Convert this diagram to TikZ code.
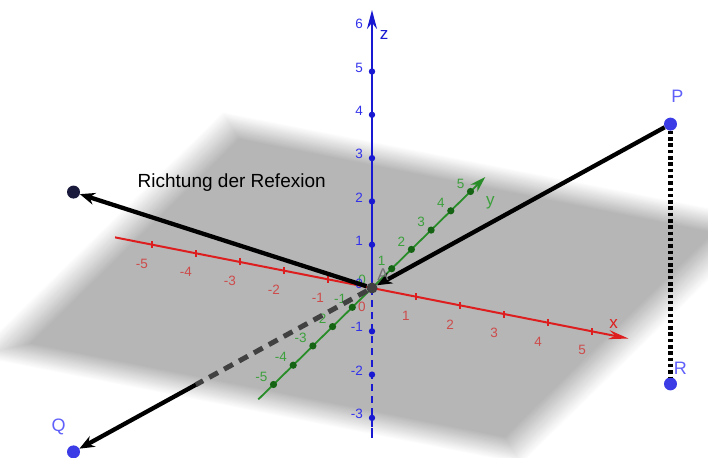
\documentclass[tikz,border=0pt]{standalone}
\usepackage{fontspec}
\setmainfont{Liberation Sans}
\usepackage{tikz}
\usetikzlibrary{calc,arrows.meta,positioning}

\definecolor{xred}{RGB}{222,30,30}
\definecolor{xlab}{RGB}{205,75,75}
\definecolor{ygreen}{RGB}{40,140,40}
\definecolor{ydot}{RGB}{20,100,20}
\definecolor{ylab}{RGB}{60,160,60}
\definecolor{zblue}{RGB}{25,25,210}
\definecolor{zlab}{RGB}{50,50,235}
\definecolor{ptblue}{RGB}{60,60,230}
\definecolor{ptlab}{RGB}{95,95,250}
\definecolor{dirdot}{RGB}{25,25,60}
\definecolor{hidden}{RGB}{65,65,65}

\tikzset{
  pt/.style={circle, fill=ptblue, inner sep=0pt, minimum size=13pt},
  ptlab/.style={text=ptlab, inner sep=0pt, font=\fontsize{18}{20}\selectfont},
  vec/.style={line width=4.3pt, -{Stealth[length=15pt,width=12pt]}},
  ticklab/.style={inner sep=0pt, font=\fontsize{13.5}{15}\selectfont},
  axlab/.style={inner sep=0pt, font=\fontsize{17}{19}\selectfont},
}

\begin{document}
\begin{tikzpicture}[>=Stealth, x={(44pt,-8.67pt)}, y={(19.7pt,19.3pt)}, z={(0pt,43.3pt)}]
  \useasboundingbox (-372pt,-169pt) rectangle (336pt,288pt);
  \clip (-372pt,-169pt) rectangle (336pt,288pt);

  % xy plane with soft edge
  \foreach \k in {0,...,19} {
    \pgfmathsetmacro{\pw}{6.25-0.045*\k}
    \pgfmathsetmacro{\ph}{6.35-0.055*\k}
    \pgfmathsetmacro{\sh}{1.5*\k}
    \fill[black!\sh] (-\pw,-\ph,0) -- (\pw,-\ph,0) -- (\pw,\ph,0) -- (-\pw,\ph,0) -- cycle;
  }

  % x axis
  \draw[xred, line width=2pt, -{Stealth[length=20pt,width=9pt]}] (-5.84,0,0) -- (5.83,0,0);
  \foreach \i in {-5,-4,-3,-2,-1,1,2,3,4,5} {
    \draw[xred, line width=2.8pt] ([yshift=-3.5pt]\i,0,0) -- ([yshift=3.5pt]\i,0,0);
  }
  \foreach \i in {-5,...,5} {
    \node[ticklab, text=xlab] at ([shift={(-10pt,-19pt)}]\i,0,0) {\i};
  }

  % y axis
  \draw[ygreen, line width=1.8pt, -{Stealth[length=16pt,width=10pt]}] (0,-5.77,0) -- (0,5.75,0);
  \foreach \i in {-5,-4,-3,-2,-1,1,2,3,4,5} {
    \fill[ydot] (0,\i,0) circle (3.6pt);
  }
  \foreach \i in {-5,...,5} {
    \node[ticklab, text=ylab, anchor=east] at ([shift={(-6pt,8pt)}]0,\i,0) {\i};
  }

  % z axis, dashed under the plane
  \draw[zblue, line width=2pt, dash pattern=on 7pt off 5pt] (0,0,0) -- (0,0,-3.23);
  \draw[zblue, line width=2pt] (0,0,-3.23) -- (0,0,-3.46);
  \draw[zblue, line width=2pt, -{Stealth[length=19pt,width=10pt]}] (0,0,0) -- (0,0,6.42);
  \foreach \i in {-3,-2,-1,1,2,3,4,5} {
    \fill[zblue] (0,0,\i) circle (3.2pt);
  }
  \foreach \i in {-3,...,6} {
    \node[ticklab, text=zlab, anchor=east] at ([shift={(-9pt,4pt)}]0,0,\i) {\i};
  }

  % axis names
  \node[axlab, text=xred] (xname) at ([shift={(-15pt,15pt)}]5.83,0,0) {x};
  \node[axlab, text=ylab] (yname) at ([shift={(5pt,-26pt)}]0,5.75,0) {y};
  \node[axlab, text=zblue] (zname) at ([shift={(12pt,-25pt)}]0,0,6.42) {z};

  % points
  \node[circle, fill=hidden, inner sep=0pt, minimum size=11pt] (A) at (0,0,0) {};
  \node[pt] (P) at (7.5,-1.6,6) {};
  \node[pt] (R) at (7.5,-1.6,0) {};
  \node[pt] (Q) at (-7.5,1.6,-6) {};
  \node[circle, fill=dirdot, inner sep=0pt, minimum size=13pt] (D) at (-7.5,1.6,0) {};

  % rays
  \draw[vec] (P) -- (A);
  \draw[vec] (A) -- (D);
  \coordinate (Qcut) at ($(A)!0.59!(Q)$);
  \draw[hidden, line width=5pt, dash pattern=on 10pt off 7pt] (A) -- (Qcut);
  \draw[vec] (Qcut) -- (Q);
  \draw[line width=4.5pt, dash pattern=on 3.5pt off 2.8pt] (P) -- (R);

  % labels
  \node[ptlab] (Plab) at ([shift={(7pt,28pt)}]P.center) {P};
  \node[ptlab] (Rlab) at ([shift={(10pt,16pt)}]R.center) {R};
  \node[ptlab] (Qlab) at ([shift={(-15pt,25pt)}]Q.center) {Q};
  \node[axlab, text=black!55] (Alab) at ([shift={(11pt,13pt)}]A.center) {A};
  \node[inner sep=0pt, anchor=west, font=\fontsize{19}{21}\selectfont] (refl)
    at ([shift={(64pt,10pt)}]D.center) {Richtung der Refexion};
\end{tikzpicture}
\end{document}
